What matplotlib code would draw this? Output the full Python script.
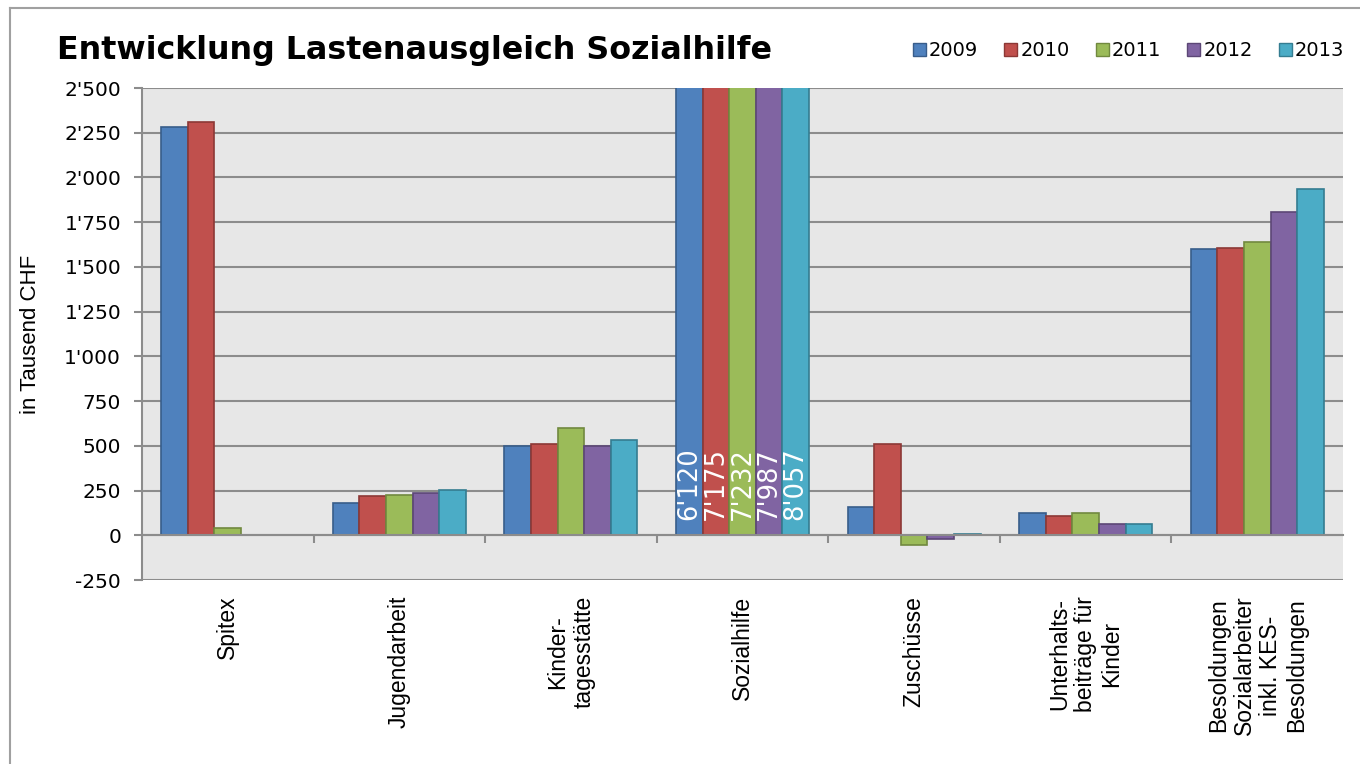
import numpy as np
import matplotlib
matplotlib.use("Agg")
import matplotlib.pyplot as plt
from matplotlib.ticker import FuncFormatter, MultipleLocator
from matplotlib.lines import Line2D

categories = ["Spitex", "Jugendarbeit", "Kinder-\ntagesstätte", "Sozialhilfe", "Zuschüsse",
              "Unterhalts-\nbeiträge für\nKinder", "Besoldungen\nSozialarbeiter\ninkl. KES-\nBesoldungen"]
years = ["2009", "2010", "2011", "2012", "2013"]
v2009 = [2280, 180, 498, 6120, 157, 123, 1598]
v2010 = [2312, 218, 509, 7175, 509, 106, 1607]
v2011 = [39, 224, 598, 7232, -56, 122, 1640]
v2012 = [np.nan, 235, 498, 7987, -22, 62, 1808]
v2013 = [np.nan, 252, 531, 8057, 5, 62, 1935]
series = [v2009, v2010, v2011, v2012, v2013]
colors = ["#4F81BD", "#C0504D", "#9BBB59", "#8064A2", "#4BACC6"]
edges = ["#385D8A", "#8C3836", "#71893F", "#5C4776", "#357D91"]

fig = plt.figure(figsize=(13.6, 7.64), dpi=100)
ax = fig.add_axes([142/1360, 1-580/764, (1343-142)/1360, (580-88)/764])
ax.set_facecolor("#E7E7E7")

n = len(categories)
x = np.arange(n)
bw = 0.155
for i, (vals, c, e, yr) in enumerate(zip(series, colors, edges, years)):
    pos = x + (i - 2) * bw
    ax.bar(pos, vals, width=bw, color=c, edgecolor=e, linewidth=1.2, label=yr, zorder=3)

# value labels for Sozialhilfe (clipped bars)
soz = categories.index("Sozialhilfe")
for i, vals in enumerate(series):
    ax.text(soz + (i - 2) * bw, 85, f"{vals[soz]:,.0f}".replace(",", "'"), rotation=90,
            ha="center", va="bottom", color="white", fontsize=18.5, zorder=5)

ax.set_xlim(-0.5, n - 0.5)
ax.set_ylim(-250, 2500)
ax.yaxis.set_major_locator(MultipleLocator(250))
ax.yaxis.set_major_formatter(FuncFormatter(lambda v, p: f"{v:,.0f}".replace(",", "'")))
ax.grid(axis="y", color="#8C8C8C", linewidth=1.5, zorder=1)
ax.set_axisbelow(True)
for s in ["top", "right"]:
    ax.spines[s].set_visible(False)
ax.spines["left"].set_color("#8C8C8C")
ax.spines["left"].set_linewidth(1.5)
ax.spines["bottom"].set_position(("data", 0))
ax.spines["bottom"].set_color("#8C8C8C")
ax.spines["bottom"].set_linewidth(1.5)
ax.spines["bottom"].set_zorder(4)
ax.set_xticks(np.arange(0.5, n - 0.5, 1))
ax.set_xticklabels([])
ax.tick_params(axis="x", direction="out", length=6, color="#8C8C8C", width=1.5)
ax.tick_params(axis="y", direction="out", length=6, color="#8C8C8C", width=1.5,
               labelsize=14.5, pad=9)

for xi, cat in zip(x, categories):
    ax.text(xi, -0.032, cat, transform=ax.get_xaxis_transform(), rotation=90,
            ha="center", va="top", multialignment="center", fontsize=16.5,
            family="Liberation Sans", linespacing=1.165)

ax.set_ylabel("in Tausend CHF", fontsize=16, family="Liberation Sans")
ax.yaxis.set_label_coords(-0.084, 0.5)

fig.text(57/1360, 1-51/764, "Entwicklung Lastenausgleich Sozialhilfe", fontsize=22.9,
         fontweight="bold", ha="left", va="center")

handles = [plt.Rectangle((0, 0), 1, 1, facecolor=c, edgecolor=e, linewidth=1) for c, e in zip(colors, edges)]
fig.legend(handles, years, loc="center right", bbox_to_anchor=(1352/1360, 1-51/764), ncol=5,
           frameon=False, fontsize=14, handlelength=0.67,
           handleheight=0.67, handletextpad=0.15, columnspacing=1.35, borderaxespad=0)

# outer chart border
fig.add_artist(Line2D([10/1360, 10/1360], [0, 1-8/764], transform=fig.transFigure, color="#A0A0A0", linewidth=1.5))
fig.add_artist(Line2D([10/1360, 1], [1-8/764, 1-8/764], transform=fig.transFigure, color="#A0A0A0", linewidth=1.5))

fig.savefig("out.png", dpi=100)
